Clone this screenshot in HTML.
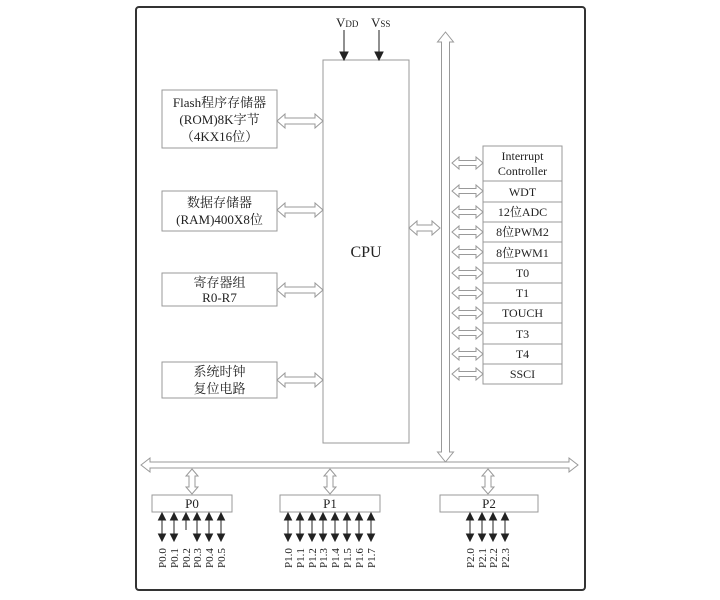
<!DOCTYPE html>
<html><head><meta charset="utf-8"><style>
html,body{margin:0;padding:0;background:#fff;}
svg{display:block;}
text{font-family:"Liberation Serif","Noto Serif CJK SC",serif;fill:#222;}
</style></head><body>
<svg id="s" width="720" height="600" viewBox="0 0 720 600" xmlns="http://www.w3.org/2000/svg">
<rect x="136" y="7" width="449" height="583" rx="3" fill="none" stroke="#333" stroke-width="2"/>
<g fill="#fff" stroke="#999" stroke-width="1">
<rect x="323" y="60" width="86" height="383"/>
<rect x="162" y="90" width="115" height="58"/>
<rect x="162" y="191" width="115" height="40"/>
<rect x="162" y="273" width="115" height="33"/>
<rect x="162" y="362" width="115" height="36"/>
<rect x="483" y="146" width="79" height="35"/>
<rect x="483" y="181" width="79" height="21"/>
<rect x="483" y="202" width="79" height="20"/>
<rect x="483" y="222" width="79" height="20"/>
<rect x="483" y="242" width="79" height="21"/>
<rect x="483" y="263" width="79" height="20"/>
<rect x="483" y="283" width="79" height="20"/>
<rect x="483" y="303" width="79" height="20"/>
<rect x="483" y="323" width="79" height="21"/>
<rect x="483" y="344" width="79" height="20"/>
<rect x="483" y="364" width="79" height="20"/>
<rect x="152" y="495" width="80" height="17"/>
<rect x="280" y="495" width="100" height="17"/>
<rect x="440" y="495" width="98" height="17"/>
</g>
<g id="arrows" fill="#fff" stroke="#999" stroke-width="1"></g>
<g id="pins" stroke="#222" fill="#222"></g>
<g font-size="13">
<text x="336" y="27">V<tspan font-size="9">DD</tspan></text>
<text x="371" y="27">V<tspan font-size="9">SS</tspan></text>
<text x="366" y="257" text-anchor="middle" font-size="16" font-family="Liberation Sans,sans-serif">CPU</text>
<text x="219.5" y="107" text-anchor="middle">Flash程序存储器</text>
<text x="219.5" y="124" text-anchor="middle">(ROM)8K字节</text>
<text x="219.5" y="141" text-anchor="middle">（4KX16位）</text>
<text x="219.5" y="207" text-anchor="middle">数据存储器</text>
<text x="219.5" y="224" text-anchor="middle">(RAM)400X8位</text>
<text x="219.5" y="287" text-anchor="middle">寄存器组</text>
<text x="219.5" y="302" text-anchor="middle">R0-R7</text>
<text x="219.5" y="376" text-anchor="middle">系统时钟</text>
<text x="219.5" y="393" text-anchor="middle">复位电路</text>
<g text-anchor="middle" font-size="12">
<text x="522.5" y="160">Interrupt</text>
<text x="522.5" y="175">Controller</text>
<text x="522.5" y="196">WDT</text>
<text x="522.5" y="216">12位ADC</text>
<text x="522.5" y="236">8位PWM2</text>
<text x="522.5" y="257">8位PWM1</text>
<text x="522.5" y="277">T0</text>
<text x="522.5" y="297">T1</text>
<text x="522.5" y="317">TOUCH</text>
<text x="522.5" y="338">T3</text>
<text x="522.5" y="358">T4</text>
<text x="522.5" y="378">SSCI</text>
</g>
<text x="192" y="508" text-anchor="middle">P0</text>
<text x="330" y="508" text-anchor="middle">P1</text>
<text x="489" y="508" text-anchor="middle">P2</text>
</g>
<g font-size="11">
<text transform="translate(166,568) rotate(-90)">P0.0</text>
<text transform="translate(178,568) rotate(-90)">P0.1</text>
<text transform="translate(190,568) rotate(-90)">P0.2</text>
<text transform="translate(201,568) rotate(-90)">P0.3</text>
<text transform="translate(213,568) rotate(-90)">P0.4</text>
<text transform="translate(225,568) rotate(-90)">P0.5</text>
<text transform="translate(292,568) rotate(-90)">P1.0</text>
<text transform="translate(304,568) rotate(-90)">P1.1</text>
<text transform="translate(316,568) rotate(-90)">P1.2</text>
<text transform="translate(327,568) rotate(-90)">P1.3</text>
<text transform="translate(339,568) rotate(-90)">P1.4</text>
<text transform="translate(351,568) rotate(-90)">P1.5</text>
<text transform="translate(363,568) rotate(-90)">P1.6</text>
<text transform="translate(375,568) rotate(-90)">P1.7</text>
<text transform="translate(474,568) rotate(-90)">P2.0</text>
<text transform="translate(486,568) rotate(-90)">P2.1</text>
<text transform="translate(497,568) rotate(-90)">P2.2</text>
<text transform="translate(509,568) rotate(-90)">P2.3</text>
</g>
</svg>
<script>
var NS="http://www.w3.org/2000/svg";
var A=document.getElementById("arrows"),P=document.getElementById("pins");
function poly(g,pts){var e=document.createElementNS(NS,"polygon");e.setAttribute("points",pts.map(function(p){return p.join(",")}).join(" "));g.appendChild(e);}
function h(x1,x2,y,s,w,l){s=s||3;w=w||7;l=l||8;poly(A,[[x1,y],[x1+l,y-w],[x1+l,y-s],[x2-l,y-s],[x2-l,y-w],[x2,y],[x2-l,y+w],[x2-l,y+s],[x1+l,y+s],[x1+l,y+w]]);}
function v(x,y1,y2,s,w,l){s=s||3;w=w||7;l=l||8;poly(A,[[x,y1],[x+w,y1+l],[x+s,y1+l],[x+s,y2-l],[x+w,y2-l],[x,y2],[x-w,y2-l],[x-s,y2-l],[x-s,y1+l],[x-w,y1+l]]);}
[121,210,290,380].forEach(function(y){h(277,323,y);});
h(409,440,228);
v(445.5,32,462,4,8,10);
[163,191,212,232,252,273,293,313,333,354,374].forEach(function(y){h(452,483,y,2.5,6,7);});
h(141,578,465,3,7,9);
[192,330,488].forEach(function(x){v(x,469,494,3,6,7);});
function line(g,x1,y1,x2,y2){var e=document.createElementNS(NS,"line");e.setAttribute("x1",x1);e.setAttribute("y1",y1);e.setAttribute("x2",x2);e.setAttribute("y2",y2);g.appendChild(e);}
function pin(x,down){line(P,x,518,x,down?536:530);poly(P,[[x,513],[x-3.5,520],[x+3.5,520]]);if(down)poly(P,[[x,541],[x-3.5,534],[x+3.5,534]]);}
[162,174,186,197,209,221].forEach(function(x,i){pin(x,i!=2);});
[288,300,312,323,335,347,359,371].forEach(function(x){pin(x,true);});
[470,482,493,505].forEach(function(x){pin(x,true);});
function va(x){line(P,x,30,x,53);poly(P,[[x,60],[x-4,52],[x+4,52]]);}
va(344);va(379);
</script>
</body></html>
